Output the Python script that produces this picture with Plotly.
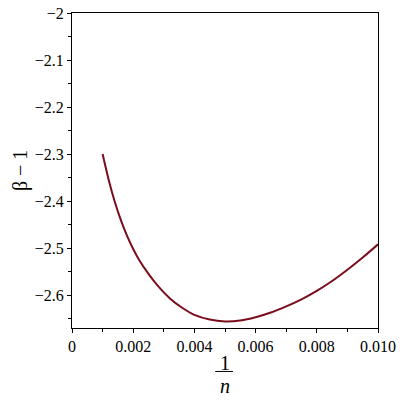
import plotly.graph_objects as go

# values
inv_n = [0.0010, 0.0012, 0.0014, 0.0016, 0.0018, 0.0020, 0.0022, 0.0025,
         0.0028, 0.0032, 0.0036, 0.0040, 0.0045, 0.0050, 0.0055, 0.0060,
         0.0065, 0.0070, 0.0075, 0.0080, 0.0085, 0.0090, 0.0095, 0.0100]
beta_minus_1 = [-2.300, -2.355, -2.402, -2.441, -2.474, -2.502, -2.526, -2.555,
                -2.580, -2.607, -2.627, -2.642, -2.652, -2.656, -2.654, -2.647,
                -2.637, -2.624, -2.609, -2.591, -2.570, -2.546, -2.520, -2.492]

x_ticks = [0, 0.002, 0.004, 0.006, 0.008, 0.010]
x_labels = ["0", "0.002", "0.004", "0.006", "0.008", "0.010"]
y_ticks = [-2.0, -2.1, -2.2, -2.3, -2.4, -2.5, -2.6]
y_labels = ["\u22122", "\u22122.1", "\u22122.2", "\u22122.3", "\u22122.4", "\u22122.5", "\u22122.6"]

serif = "Liberation Serif, Times New Roman, serif"

fig = go.Figure()
fig.add_trace(go.Scatter(
    x=inv_n, y=beta_minus_1, mode="lines",
    line=dict(color="#7a0d1c", width=2, shape="spline"),
    showlegend=False,
))

axis_common = dict(
    showgrid=False, zeroline=False, showline=True, linecolor="black", linewidth=1,
    mirror=True, ticks="outside", ticklen=4, tickcolor="black", automargin=False,
    tickfont=dict(family=serif, size=16, color="black"),
)
fig.update_xaxes(range=[0, 0.01], tickvals=x_ticks, ticktext=x_labels,
                 minor=dict(ticks="outside", ticklen=3, dtick=0.001, tick0=0, tickcolor="black"),
                 **axis_common)
fig.update_yaxes(range=[-2.67, -2.0], tickvals=y_ticks, ticktext=y_labels,
                 minor=dict(ticks="outside", ticklen=3, dtick=0.05, tick0=-2, tickcolor="black"),
                 **axis_common)

# x-axis title as a stacked fraction 1/n
fig.add_annotation(text="1", xref="paper", yref="paper", x=0.5, y=-0.111,
                   showarrow=False, font=dict(family=serif, size=20, color="black"),
                   xanchor="center", yanchor="middle")
fig.add_shape(type="line", xref="paper", yref="paper", x0=0.468, x1=0.526,
              y0=-0.138, y1=-0.138, line=dict(color="black", width=1))
fig.add_annotation(text="<i>n</i>", xref="paper", yref="paper", x=0.5, y=-0.183,
                   showarrow=False, font=dict(family=serif, size=20, color="black"),
                   xanchor="center", yanchor="middle")

# y-axis title
fig.add_annotation(text="\u03b2 \u2212 1", xref="paper", yref="paper", x=-0.168, y=0.5,
                   textangle=-90, showarrow=False,
                   font=dict(family=serif, size=20, color="black"),
                   xanchor="center", yanchor="middle")

fig.update_layout(
    width=400, height=400,
    margin=dict(l=72, r=22, t=13, b=72),
    paper_bgcolor="white", plot_bgcolor="white",
)

fig.write_html(
    "out.html",
    config={"displayModeBar": False},
    post_script="document.body.style.margin='0';document.documentElement.style.overflow='hidden';",
)
